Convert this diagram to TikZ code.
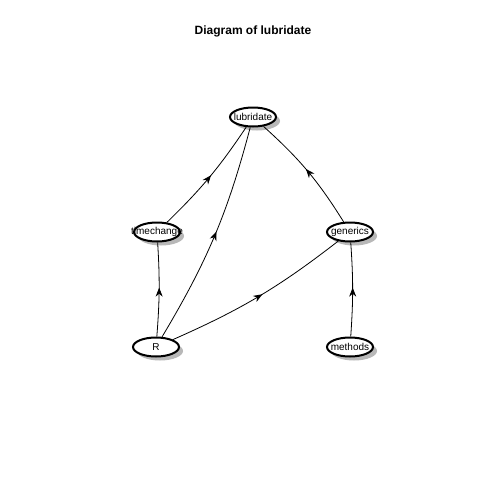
\documentclass[tikz,border=0pt]{standalone}
\usepackage{fontspec}
\setmainfont{Liberation Sans}
\usetikzlibrary{shapes.geometric,shadows,decorations.markings,arrows.meta}
\begin{document}
\begin{tikzpicture}[x=1pt,y=1pt,
 ell/.style={ellipse,draw=black,line width=2pt,fill=white,minimum width=46pt,minimum height=19pt,inner sep=0pt,
   drop shadow={shadow xshift=4pt,shadow yshift=-4pt,fill=black!28,opacity=1},
   label={[lab]center:#1}},
 lab/.style={font=\fontsize{10}{12}\selectfont,inner sep=0pt},
 edge/.style={line width=0.8pt,decoration={markings,mark=at position 0.52 with {\arrow{Stealth[length=9pt,width=7pt]}}},postaction=decorate}]
\useasboundingbox[fill=white] (0,0) rectangle (480,-480);
\node[font=\bfseries\fontsize{12}{14}\selectfont] (title) at (253,-31) {Diagram of lubridate};
\node[ell=lubridate] (lub) at (253,-117) {};
\node[ell=timechange] (tc) at (157,-232) {};
\node[ell=generics] (gen) at (350,-232) {};
\node[ell=R] (R) at (156,-347) {};
\node[ell=methods] (meth) at (350,-347) {};
\draw[edge] (tc) to[bend right=6] (lub);
\draw[edge] (R) to[bend right=8] (lub);
\draw[edge] (R) to[bend right=4] (tc);
\draw[edge] (R) to[bend right=7] (gen);
\draw[edge] (gen) to[bend right=8] (lub);
\draw[edge] (meth) to[bend right=4] (gen);
\end{tikzpicture}
\end{document}
